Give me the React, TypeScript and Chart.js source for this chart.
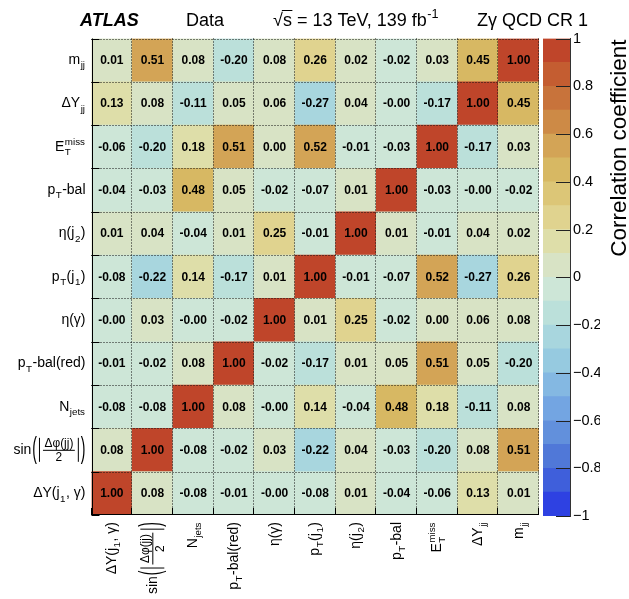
import React, { useEffect, useRef } from "react";
import { Chart, registerables } from "chart.js";

Chart.register(...registerables);

// ---------------- data ----------------
// variables, index 0 = bottom row / left column
const variables = [
  "ΔY(j_{1}, γ)",
  "sin(|Δφ(jj)/2|)",
  "N_{jets}",
  "p_{T}-bal(red)",
  "η(γ)",
  "p_{T}(j_{1})",
  "η(j_{2})",
  "p_{T}-bal",
  "E_{T}^{miss}",
  "ΔY_{jj}",
  "m_{jj}",
];

// each row: correlation with the columns (left → right, same order as variables)
const rowDYj1g = [1.0, 0.08, -0.08, -0.01, -0.0, -0.08, 0.01, -0.04, -0.06, 0.13, 0.01];
const rowSinDphi = [0.08, 1.0, -0.08, -0.02, 0.03, -0.22, 0.04, -0.03, -0.2, 0.08, 0.51];
const rowNjets = [-0.08, -0.08, 1.0, 0.08, -0.0, 0.14, -0.04, 0.48, 0.18, -0.11, 0.08];
const rowPtBalRed = [-0.01, -0.02, 0.08, 1.0, -0.02, -0.17, 0.01, 0.05, 0.51, 0.05, -0.2];
const rowEtaGamma = [-0.0, 0.03, -0.0, -0.02, 1.0, 0.01, 0.25, -0.02, 0.0, 0.06, 0.08];
const rowPtJ1 = [-0.08, -0.22, 0.14, -0.17, 0.01, 1.0, -0.01, -0.07, 0.52, -0.27, 0.26];
const rowEtaJ2 = [0.01, 0.04, -0.04, 0.01, 0.25, -0.01, 1.0, 0.01, -0.01, 0.04, 0.02];
const rowPtBal = [-0.04, -0.03, 0.48, 0.05, -0.02, -0.07, 0.01, 1.0, -0.03, -0.0, -0.02];
const rowEtmiss = [-0.06, -0.2, 0.18, 0.51, 0.0, 0.52, -0.01, -0.03, 1.0, -0.17, 0.03];
const rowDYjj = [0.13, 0.08, -0.11, 0.05, 0.06, -0.27, 0.04, -0.0, -0.17, 1.0, 0.45];
const rowMjj = [0.01, 0.51, 0.08, -0.2, 0.08, 0.26, 0.02, -0.02, 0.03, 0.45, 1.0];

const matrixRows = [
  rowDYj1g, rowSinDphi, rowNjets, rowPtBalRed, rowEtaGamma, rowPtJ1,
  rowEtaJ2, rowPtBal, rowEtmiss, rowDYjj, rowMjj,
];

// colour bar band edges
const bandEdges = [
  -1, -0.9, -0.8, -0.7, -0.6, -0.5, -0.4, -0.3, -0.2, -0.1, 0,
  0.1, 0.2, 0.3, 0.4, 0.5, 0.6, 0.7, 0.8, 0.9, 1,
];

const headerAtlas = "ATLAS";
const headerData = "Data";
const headerEnergy = " = 13 TeV, 139 fb^{-1}";
const headerRegion = "Zγ QCD CR 1";
const colorBarTitle = "Correlation coefficient";

// ---------------- style ----------------
const palette = [
  "#2e41e2", "#3f5fdb", "#5078d8", "#6290dc", "#73a5e2",
  "#84b8e2", "#96cae0", "#a8d6de", "#bbe0da", "#cde6d7",
  "#d8e3c5", "#dedea9", "#e0d38f", "#dcc677", "#d7b863",
  "#d3a456", "#cd8a46", "#c8733b", "#c45d31", "#bf452a",
];
const FONT = "'Liberation Sans', Arial, Helvetica, sans-serif";

function bandOf(v: number): number {
  if (v < 0 || Object.is(v, -0)) {
    let b = Math.floor((v + 1) * 10 + 1e-9);
    if (b > 9) b = 9;
    return Math.max(0, b);
  }
  return Math.min(19, 10 + Math.floor(v * 10 + 1e-9));
}
function fmt(v: number): string {
  if (Object.is(v, -0)) return "-0.00";
  return v.toFixed(2);
}

function setFont(ctx: CanvasRenderingContext2D, size: number, bold = false, italic = false) {
  ctx.font = `${italic ? "italic " : ""}${bold ? "bold " : ""}${size}px ${FONT}`;
}

type Piece = { text: string; x: number; dy: number; size: number };

function layoutRich(ctx: CanvasRenderingContext2D, s: string, size: number) {
  const parts = s.split(/(_\{[^}]*\}|\^\{[^}]*\})/).filter((p) => p.length);
  const toks = parts.map((p) =>
    p.startsWith("_{") ? { k: "sub", t: p.slice(2, -1) } : p.startsWith("^{") ? { k: "sup", t: p.slice(2, -1) } : { k: "n", t: p }
  );
  const small = size * 0.7;
  const pieces: Piece[] = [];
  let x = 0;
  for (let i = 0; i < toks.length; i++) {
    const tk = toks[i];
    if (tk.k === "n") {
      setFont(ctx, size);
      pieces.push({ text: tk.t, x, dy: 0, size });
      x += ctx.measureText(tk.t).width;
    } else {
      setFont(ctx, small);
      const w = ctx.measureText(tk.t).width;
      const dy = tk.k === "sub" ? size * 0.3 : -size * 0.42;
      pieces.push({ text: tk.t, x: x + 0.5, dy, size: small });
      let adv = w + 0.5;
      const nx = toks[i + 1];
      if (nx && nx.k !== "n" && nx.k !== tk.k) {
        const w2 = ctx.measureText(nx.t).width;
        const dy2 = nx.k === "sub" ? size * 0.3 : -size * 0.42;
        pieces.push({ text: nx.t, x: x + 0.5, dy: dy2, size: small });
        adv = Math.max(adv, w2 + 0.5);
        i++;
      }
      x += adv + 0.5;
    }
  }
  return { pieces, width: x };
}

const FRAC_RE = /^sin\(\|(.+)\/(.+)\|\)$/;

function drawFrac(ctx: CanvasRenderingContext2D, num: string, den: string, xRight: number, baseY: number, size: number) {
  const small = size * 0.85;
  setFont(ctx, size);
  const wSin = ctx.measureText("sin").width;
  const wPar = ctx.measureText("(").width;
  setFont(ctx, small);
  const wNum = ctx.measureText(num).width;
  const wDen = ctx.measureText(den).width;
  const fracW = Math.max(wNum, wDen) + 3;
  const total = wSin + 1 + wPar + 2 + 1 + 3 + fracW + 3 + 1 + 2 + wPar;
  let x = xRight - total;
  const axisY = baseY - size * 0.3;
  ctx.textAlign = "left";
  ctx.textBaseline = "alphabetic";
  setFont(ctx, size);
  ctx.fillText("sin", x, baseY);
  x += wSin + 1;
  ctx.save();
  ctx.translate(x, axisY);
  ctx.scale(1, 2.1);
  ctx.textBaseline = "middle";
  ctx.fillText("(", 0, 0);
  ctx.restore();
  x += wPar + 2;
  ctx.lineWidth = 1;
  ctx.setLineDash([]);
  ctx.strokeStyle = "#000";
  ctx.beginPath();
  ctx.moveTo(x + 0.5, axisY - 12);
  ctx.lineTo(x + 0.5, axisY + 12);
  ctx.stroke();
  x += 1 + 3;
  setFont(ctx, small);
  ctx.fillText(num, x + (fracW - wNum) / 2, axisY - 3);
  ctx.fillText(den, x + (fracW - wDen) / 2, axisY + 3 + small * 0.72);
  ctx.beginPath();
  ctx.moveTo(x, axisY + 0.5);
  ctx.lineTo(x + fracW, axisY + 0.5);
  ctx.stroke();
  x += fracW + 3;
  ctx.beginPath();
  ctx.moveTo(x + 0.5, axisY - 12);
  ctx.lineTo(x + 0.5, axisY + 12);
  ctx.stroke();
  x += 1 + 2;
  setFont(ctx, size);
  ctx.save();
  ctx.translate(x, axisY);
  ctx.scale(1, 2.1);
  ctx.textBaseline = "middle";
  ctx.fillText(")", 0, 0);
  ctx.restore();
}

function drawRich(ctx: CanvasRenderingContext2D, s: string, xAnchor: number, baseY: number, size: number, align: "left" | "right" = "right") {
  const m = s.match(FRAC_RE);
  if (m) {
    drawFrac(ctx, m[1], m[2], xAnchor, baseY, size);
    return;
  }
  const { pieces, width } = layoutRich(ctx, s, size);
  const x0 = align === "right" ? xAnchor - width : xAnchor;
  ctx.textAlign = "left";
  ctx.textBaseline = "alphabetic";
  for (const p of pieces) {
    setFont(ctx, p.size);
    ctx.fillText(p.text, x0 + p.x, baseY + p.dy);
  }
}

const matrixDecor = {
  id: "matrixDecor",
  afterDatasetsDraw(chart: any) {
    const ctx: CanvasRenderingContext2D = chart.ctx;
    const { left, right, top, bottom } = chart.chartArea;
    const xs = chart.scales.x;
    const ys = chart.scales.y;
    const n = variables.length;
    const cw = (right - left) / n;
    ctx.save();
    // dotted grid
    ctx.strokeStyle = "#111";
    ctx.lineWidth = 1;
    ctx.setLineDash([1, 2]);
    for (let k = 1; k <= n; k++) {
      const X = Math.round(left + k * cw) - 0.5;
      ctx.beginPath();
      ctx.moveTo(X, top);
      ctx.lineTo(X, bottom);
      ctx.stroke();
      const Y = Math.round(ys.getPixelForValue(k)) + 0.5;
      ctx.beginPath();
      ctx.moveTo(left, Y);
      ctx.lineTo(right, Y);
      ctx.stroke();
    }
    // axes
    ctx.setLineDash([]);
    ctx.strokeStyle = "#000";
    const L = Math.round(left) + 0.5;
    const B = Math.round(bottom) - 0.5;
    ctx.beginPath();
    ctx.moveTo(L, top);
    ctx.lineTo(L, bottom);
    ctx.moveTo(left, B);
    ctx.lineTo(right, B);
    ctx.stroke();
    ctx.beginPath();
    for (let k = 0; k <= n; k++) {
      const Y = Math.round(ys.getPixelForValue(k)) + 0.5;
      ctx.moveTo(left, Y);
      ctx.lineTo(left + 8, Y);
      const X = Math.round(left + k * cw) - 0.5;
      ctx.moveTo(X, bottom);
      ctx.lineTo(X, bottom - 7);
    }
    ctx.stroke();
    // cell values
    ctx.fillStyle = "#000";
    setFont(ctx, 12, true);
    ctx.textAlign = "center";
    ctx.textBaseline = "middle";
    matrixRows.forEach((row, i) => {
      const cy = ys.getPixelForValue(i + 0.5);
      row.forEach((v, j) => {
        ctx.fillText(fmt(v), xs.getPixelForValue(j), cy + 0.5);
      });
    });
    // y labels
    variables.forEach((lab, i) => {
      const cy = ys.getPixelForValue(i + 0.5);
      drawRich(ctx, lab, left - 6, cy + 4, 14, "right");
    });
    // x labels
    variables.forEach((lab, j) => {
      const cx = xs.getPixelForValue(j);
      ctx.save();
      ctx.translate(cx, bottom + 7);
      ctx.rotate(-Math.PI / 2);
      drawRich(ctx, lab, 0, 4, 14, "right");
      ctx.restore();
    });
    ctx.restore();
  },
  afterDraw(chart: any) {
    const ctx: CanvasRenderingContext2D = chart.ctx;
    ctx.save();
    ctx.fillStyle = "#000";
    ctx.strokeStyle = "#000";
    ctx.textAlign = "left";
    ctx.textBaseline = "alphabetic";
    const base = 26;
    setFont(ctx, 18, true, true);
    ctx.fillText(headerAtlas, 80, base);
    setFont(ctx, 18);
    ctx.fillText(headerData, 186, base);
    let x = 273;
    const wRoot = ctx.measureText("√").width;
    ctx.fillText("√", x, base);
    const wS = ctx.measureText("s").width;
    ctx.fillText("s", x + wRoot, base);
    ctx.lineWidth = 1;
    ctx.beginPath();
    ctx.moveTo(x + wRoot - 1, base - 15.5);
    ctx.lineTo(x + wRoot + wS + 0.5, base - 15.5);
    ctx.stroke();
    x += wRoot + wS;
    drawRich(ctx, headerEnergy, x, base, 18, "left");
    setFont(ctx, 18);
    ctx.textAlign = "left";
    ctx.fillText(headerRegion, 477, base);
    ctx.restore();
  },
};

const colorBarDecor = {
  id: "colorBarDecor",
  afterDraw(chart: any) {
    const ctx: CanvasRenderingContext2D = chart.ctx;
    const { right, top } = chart.chartArea;
    const ys = chart.scales.y;
    ctx.save();
    ctx.strokeStyle = "#222";
    ctx.lineWidth = 1;
    ctx.beginPath();
    for (const t of ys.ticks) {
      const Y = Math.round(ys.getPixelForValue(t.value)) + 0.5;
      ctx.moveTo(right - 14, Y);
      ctx.lineTo(right, Y);
    }
    ctx.stroke();
    ctx.fillStyle = "#000";
    ctx.translate(626, top + 1);
    ctx.rotate(-Math.PI / 2);
    setFont(ctx, 22.5);
    ctx.textAlign = "right";
    ctx.textBaseline = "alphabetic";
    ctx.fillText(colorBarTitle, 0, 0);
    ctx.restore();
  },
};

export default function App() {
  const mRef = useRef<HTMLCanvasElement>(null);
  const cRef = useRef<HTMLCanvasElement>(null);

  useEffect(() => {
    const matrix = new Chart(mRef.current as HTMLCanvasElement, {
      type: "bar",
      data: {
        labels: variables,
        datasets: matrixRows.map((row, i) => ({
          data: row.map(() => [i, i + 1]),
          backgroundColor: row.map((v) => palette[bandOf(v)]),
          borderWidth: 0,
          barPercentage: 1,
          categoryPercentage: 1,
          grouped: false,
        })) as any,
      },
      options: {
        responsive: false,
        animation: false,
        devicePixelRatio: 1,
        layout: { padding: { left: 91.5, top: 38.5, right: 90, bottom: 84 } },
        plugins: { legend: { display: false }, tooltip: { enabled: false } },
        scales: {
          x: { type: "category", display: false, offset: true },
          y: { type: "linear", display: false, min: 0, max: 11 },
        },
      },
      plugins: [matrixDecor],
    });

    const bar = new Chart(cRef.current as HTMLCanvasElement, {
      type: "bar",
      data: {
        labels: [""],
        datasets: palette.map((c, k) => ({
          data: [[bandEdges[k], bandEdges[k + 1]]],
          backgroundColor: c,
          borderWidth: 0,
          barPercentage: 1,
          categoryPercentage: 1,
          grouped: false,
        })) as any,
      },
      options: {
        responsive: false,
        animation: false,
        devicePixelRatio: 1,
        layout: { padding: { left: 543, top: 38.5, right: 29, bottom: 83 } },
        plugins: { legend: { display: false }, tooltip: { enabled: false } },
        scales: {
          x: { type: "category", display: false },
          y: {
            type: "linear",
            position: "right",
            min: -1,
            max: 1,
            grid: { display: false, drawTicks: false },
            border: { display: true, color: "#333" },
            ticks: {
              stepSize: 0.2,
              padding: 3,
              color: "#000",
              font: { family: FONT, size: 14.5 },
              callback: (v: any) => {
                const r = Math.round(Number(v) * 10) / 10;
                return String(r).replace("-", "\u2212");
              },
            },
            afterFit: (s: any) => {
              s.width = 30;
            },
          },
        },
      },
      plugins: [colorBarDecor],
    });

    return () => {
      matrix.destroy();
      bar.destroy();
    };
  }, []);

  return (
    <div style={{ position: "fixed", left: 0, top: 0, width: 629, height: 599, background: "#fff" }}>
      <canvas ref={mRef} width={629} height={599} style={{ position: "absolute", left: 0, top: 0 }} />
      <canvas ref={cRef} width={629} height={599} style={{ position: "absolute", left: 0, top: 0 }} />
    </div>
  );
}
